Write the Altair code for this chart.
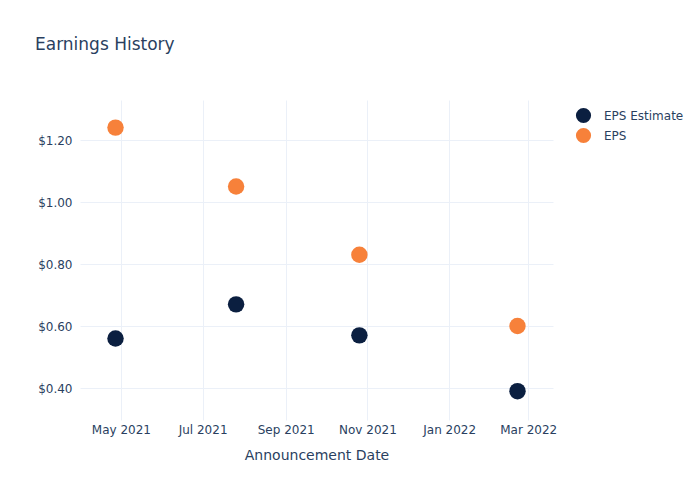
import altair as alt
import pandas as pd

dates = ["2021-04-27", "2021-07-26", "2021-10-26", "2022-02-21"]
eps_estimate = [0.56, 0.67, 0.57, 0.39]
eps_actual = [1.24, 1.05, 0.83, 0.60]
series_names = ["EPS Estimate", "EPS"]
series_colors = ["#0b1f40", "#f7813a"]

rows = []
for d, e, a in zip(dates, eps_estimate, eps_actual):
    rows.append({"date": d, "value": e, "series": series_names[0]})
    rows.append({"date": d, "value": a, "series": series_names[1]})
df = pd.DataFrame(rows)

chart = alt.Chart(df).mark_circle(size=270, opacity=1).encode(
    x=alt.X("date:T", title="Announcement Date",
            scale=alt.Scale(domain=["2021-03-31T12:00:00", "2022-03-19T12:00:00"]),
            axis=alt.Axis(format="%b %Y", tickCount={"interval": "month", "step": 2},
                          grid=True, domain=False, ticks=False, labelPadding=4,
                          titlePadding=13)),
    y=alt.Y("value:Q", title=None,
            scale=alt.Scale(domain=[0.297, 1.329], nice=False, zero=False),
            axis=alt.Axis(format="$.2f", values=[0.4, 0.6, 0.8, 1.0, 1.2],
                          domain=False, ticks=False, labelPadding=8)),
    color=alt.Color("series:N", title=None,
                    scale=alt.Scale(domain=series_names, range=series_colors),
                    legend=alt.Legend(orient="none", legendX=495, legendY=7,
                                      symbolSize=230, symbolType="circle",
                                      symbolOpacity=1,
                                      labelFontSize=12, rowPadding=3,
                                      labelColor="#2a3f5f", labelOffset=12)),
).properties(
    width=473, height=320,
    title=alt.TitleParams("Earnings History", anchor="start", frame="group",
                          dx=-45, offset=46,
                          fontSize=17, fontWeight="normal", color="#2a3f5f",
                          font="DejaVu Sans"),
    autosize=alt.AutoSizeParams(type="none"),
    padding={"left": 72, "top": 92, "right": 139, "bottom": 72},
).configure_view(stroke=None).configure_axis(
    gridColor="#ebf0f8", labelColor="#2a3f5f", titleColor="#2a3f5f",
    labelFont="DejaVu Sans", titleFont="DejaVu Sans", labelFontSize=12,
    titleFontSize=14, titleFontWeight="normal",
).configure_legend(labelFont="DejaVu Sans")

chart.save("out.html", embed_options={"renderer": "svg", "actions": False})
